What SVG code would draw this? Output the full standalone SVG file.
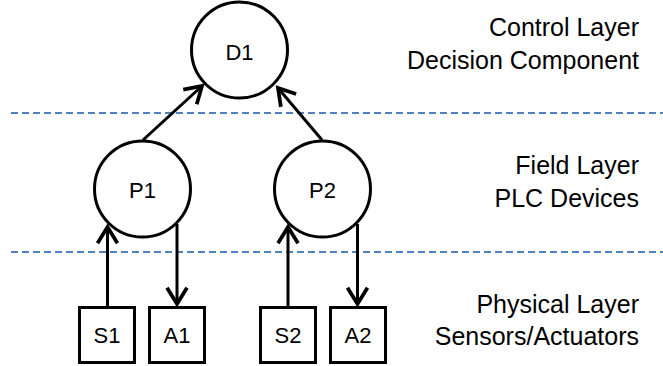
<svg xmlns="http://www.w3.org/2000/svg" width="663" height="366" viewBox="0 0 663 366">
<style>
.node{fill:#fff;stroke:#000;stroke-width:3}
.lbl{font-family:"Liberation Sans",Arial,sans-serif;font-size:22px;fill:#000;text-anchor:middle}
.layer{font-family:"Liberation Sans",Arial,sans-serif;font-size:25px;fill:#000;text-anchor:end}
.edge{stroke:#000;stroke-width:3;fill:none;marker-end:url(#arr)}
.sep{stroke:#4f81bd;stroke-width:1.8;stroke-dasharray:7 4;fill:none}
</style>
<defs>
<marker id="arr" markerUnits="userSpaceOnUse" markerWidth="30" markerHeight="30" viewBox="-16 -12 20 24" refX="0" refY="0" orient="auto" overflow="visible">
<path d="M-13,-8 L0,0 L-13,8" fill="none" stroke="#000" stroke-width="3" stroke-linejoin="miter"/>
</marker>
</defs>
<rect width="663" height="366" fill="#fff"/>
<g id="separators">
<line class="sep" x1="11" y1="113" x2="663" y2="113"/>
<line class="sep" x1="11" y1="252" x2="663" y2="252"/>
</g>
<g id="layer-labels">
<text class="layer" x="639" y="36">Control Layer</text>
<text class="layer" x="639" y="69">Decision Component</text>
<text class="layer" x="639" y="174">Field Layer</text>
<text class="layer" x="639" y="207">PLC Devices</text>
<text class="layer" x="639" y="313">Physical Layer</text>
<text class="layer" x="639" y="345">Sensors/Actuators</text>
</g>
<g id="connectors">
<line class="edge" x1="143" y1="140" x2="202" y2="86"/>
<line class="edge" x1="322" y1="140" x2="278" y2="88"/>
<line class="edge" x1="107.5" y1="307" x2="107.5" y2="227"/>
<line class="edge" x1="177" y1="224" x2="177" y2="304"/>
<line class="edge" x1="288" y1="307" x2="288" y2="227"/>
<line class="edge" x1="357.5" y1="224" x2="357.5" y2="304"/>
</g>
<g id="D1"><circle class="node" cx="239.5" cy="50" r="48"/><text class="lbl" x="239.5" y="60">D1</text></g>
<g id="P1"><circle class="node" cx="142.5" cy="189" r="48"/><text class="lbl" x="142.5" y="198">P1</text></g>
<g id="P2"><circle class="node" cx="322.5" cy="189" r="48"/><text class="lbl" x="322.5" y="198">P2</text></g>
<g id="S1"><rect class="node" x="79.5" y="307.5" width="55" height="55"/><text class="lbl" x="107" y="343">S1</text></g>
<g id="A1"><rect class="node" x="149.5" y="307.5" width="55" height="55"/><text class="lbl" x="177" y="343">A1</text></g>
<g id="S2"><rect class="node" x="260.5" y="307.5" width="55" height="55"/><text class="lbl" x="288" y="343">S2</text></g>
<g id="A2"><rect class="node" x="330.5" y="307.5" width="55" height="55"/><text class="lbl" x="358" y="343">A2</text></g>
</svg>
